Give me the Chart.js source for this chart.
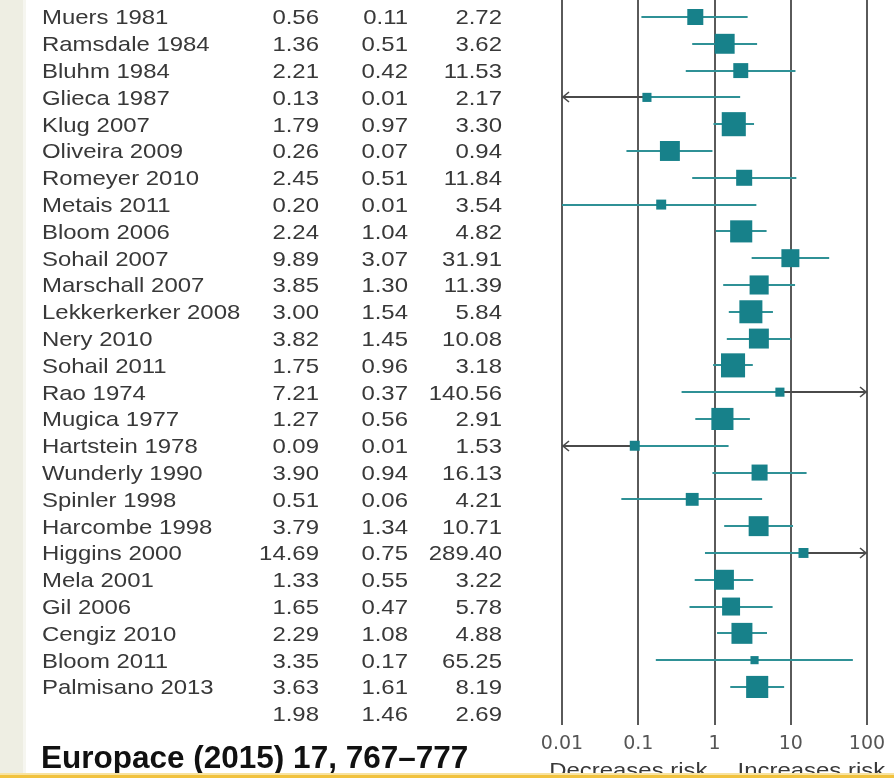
<!DOCTYPE html>
<html>
<head>
<meta charset="utf-8">
<script src="https://cdn.jsdelivr.net/npm/chart.js@4.4.1/dist/chart.umd.min.js"></script>
<style>
  html, body { margin: 0; padding: 0; background: #fff; overflow: hidden; }
  #wrap { width: 894px; height: 778px; position: relative; }
  canvas { display: block; }
</style>
</head>
<body>
<div id="wrap"><canvas id="forest" width="894" height="778"></canvas></div>
<script>
// Study-level odds ratios with 95% confidence intervals
const studies = [
  "Muers 1981", "Ramsdale 1984", "Bluhm 1984", "Glieca 1987", "Klug 2007",
  "Oliveira 2009", "Romeyer 2010", "Metais 2011", "Bloom 2006", "Sohail 2007",
  "Marschall 2007", "Lekkerkerker 2008", "Nery 2010", "Sohail 2011", "Rao 1974",
  "Mugica 1977", "Hartstein 1978", "Wunderly 1990", "Spinler 1998", "Harcombe 1998",
  "Higgins 2000", "Mela 2001", "Gil 2006", "Cengiz 2010", "Bloom 2011", "Palmisano 2013"
];
const oddsRatio = [
  0.56, 1.36, 2.21, 0.13, 1.79, 0.26, 2.45, 0.20, 2.24, 9.89,
  3.85, 3.00, 3.82, 1.75, 7.21, 1.27, 0.09, 3.90, 0.51, 3.79,
  14.69, 1.33, 1.65, 2.29, 3.35, 3.63
];
const ciLower = [
  0.11, 0.51, 0.42, 0.01, 0.97, 0.07, 0.51, 0.01, 1.04, 3.07,
  1.30, 1.54, 1.45, 0.96, 0.37, 0.56, 0.01, 0.94, 0.06, 1.34,
  0.75, 0.55, 0.47, 1.08, 0.17, 1.61
];
const ciUpper = [
  2.72, 3.62, 11.53, 2.17, 3.30, 0.94, 11.84, 3.54, 4.82, 31.91,
  11.39, 5.84, 10.08, 3.18, 140.56, 2.91, 1.53, 16.13, 4.21, 10.71,
  289.40, 3.22, 5.78, 4.88, 65.25, 8.19
];
// relative study weights (%), box area is proportional to weight
const weights = [
  3.1, 4.8, 2.7, 1.0, 7.0, 4.8, 3.1, 1.2, 5.9, 3.9,
  4.4, 6.4, 4.8, 7.0, 1.0, 5.9, 1.2, 3.1, 2.0, 4.8,
  1.2, 4.8, 3.9, 5.3, 0.8, 5.9
];
// studies whose lower limit lies below the plotted range (shown rounded as 0.01)
const lowerBeyondAxis = ["Glieca 1987", "Hartstein 1978"];
// pooled estimate: OR, lower, upper
const pooled = [1.98, 1.46, 2.69];

const tickValues = [0.01, 0.1, 1, 10, 100];
const tickLabels = ["0.01", "0.1", "1", "10", "100"];
const axisCaptions = ["Decreases risk", "Increases risk"];
const citation = "Europace (2015) 17, 767\u2013777";

const TEAL = "#17818a";
const TEAL_LINE = "#2f9196";
const DARK = "#4a4a4a";
const TEXT = "#383838";
const X_MIN = 0.01, X_MAX = 100;

function boxRadius(w) {
  const side = 9.1 * Math.sqrt(w);
  return side / Math.SQRT2; // Chart.js 'rect' side = sqrt(2) * radius
}

function stretchedText(ctx, str, x, y, align, sx) {
  ctx.save();
  ctx.translate(x, y);
  ctx.scale(sx, 1);
  ctx.textAlign = align;
  ctx.fillText(str, 0, 0);
  ctx.restore();
}

const forestPlugin = {
  id: "forestTable",
  beforeDraw(chart) {
    const ctx = chart.ctx;
    ctx.save();
    ctx.fillStyle = "#ffffff";
    ctx.fillRect(0, 0, chart.width, chart.height);
    // slide margin strip
    ctx.fillStyle = "#eeeee3";
    ctx.fillRect(0, 0, 23, chart.height);
    ctx.fillStyle = "#f6f6f0";
    ctx.fillRect(23, 0, 3, chart.height);
    ctx.restore();
  },
  beforeDatasetsDraw(chart) {
    const ctx = chart.ctx;
    const xs = chart.scales.x, ys = chart.scales.y;
    ctx.save();
    ctx.lineWidth = 2;
    ctx.lineCap = "butt";
    studies.forEach((name, i) => {
      const y = Math.round(ys.getPixelForValue(i));
      const lowOut = lowerBeyondAxis.includes(name) || ciLower[i] < X_MIN;
      const highOut = ciUpper[i] > X_MAX;
      const xl = xs.getPixelForValue(Math.max(ciLower[i], X_MIN));
      const xr = xs.getPixelForValue(Math.min(ciUpper[i], X_MAX));
      const xp = xs.getPixelForValue(oddsRatio[i]);
      const seg = (a, b, col) => {
        ctx.strokeStyle = col;
        ctx.beginPath();
        ctx.moveTo(a, y);
        ctx.lineTo(b, y);
        ctx.stroke();
      };
      seg(xl, xp, lowOut ? DARK : TEAL_LINE);
      seg(xp, xr, highOut ? DARK : TEAL_LINE);
      ctx.strokeStyle = DARK;
      ctx.lineWidth = 1.6;
      if (lowOut) {
        ctx.beginPath();
        ctx.moveTo(xl + 7, y - 5);
        ctx.lineTo(xl + 1, y);
        ctx.lineTo(xl + 7, y + 5);
        ctx.stroke();
      }
      if (highOut) {
        ctx.beginPath();
        ctx.moveTo(xr - 7, y - 5);
        ctx.lineTo(xr - 1, y);
        ctx.lineTo(xr - 7, y + 5);
        ctx.stroke();
      }
      ctx.lineWidth = 2;
    });
    ctx.restore();
  },
  afterDraw(chart) {
    const ctx = chart.ctx;
    const xs = chart.scales.x, ys = chart.scales.y;
    ctx.save();
    ctx.fillStyle = TEXT;
    ctx.font = "21px 'Liberation Sans', Arial, sans-serif";
    ctx.textBaseline = "alphabetic";
    const SX = 1.14;
    const colRight = [319, 408, 502];
    const rowText = (i, name, vals) => {
      const base = ys.getPixelForValue(i) + 7.4;
      if (name) stretchedText(ctx, name, 42, base, "left", SX);
      vals.forEach((v, k) => stretchedText(ctx, v.toFixed(2), colRight[k], base, "right", SX));
    };
    studies.forEach((name, i) => rowText(i, name, [oddsRatio[i], ciLower[i], ciUpper[i]]));
    rowText(studies.length, "", pooled);

    // direction captions either side of OR = 1
    const x1 = xs.getPixelForValue(1);
    stretchedText(ctx, axisCaptions[0], x1 - 7, 777, "right", SX);
    stretchedText(ctx, axisCaptions[1], x1 + 23, 777, "left", SX);

    // source line
    ctx.fillStyle = "#111111";
    ctx.font = "bold 31.5px 'Liberation Sans', Arial, sans-serif";
    ctx.textAlign = "left";
    ctx.fillText(citation, 41, 768);

    // slide footer band
    ctx.fillStyle = "#f8e3a0";
    ctx.fillRect(0, 773, chart.width, 2);
    ctx.fillStyle = "#f1c23e";
    ctx.fillRect(0, 775, chart.width, 3);
    ctx.restore();
  }
};

const ctx = document.getElementById("forest").getContext("2d");
new Chart(ctx, {
  type: "scatter",
  data: {
    datasets: [{
      data: studies.map((s, i) => ({ x: oddsRatio[i], y: i })),
      pointStyle: "rect",
      pointRadius: weights.map(boxRadius),
      pointHoverRadius: weights.map(boxRadius),
      backgroundColor: TEAL,
      borderWidth: 0,
      clip: false
    }]
  },
  options: {
    responsive: false,
    animation: false,
    devicePixelRatio: 1,
    events: [],
    layout: { autoPadding: false, padding: { left: 562, right: 27, top: 0, bottom: 0 } },
    plugins: { legend: { display: false }, tooltip: { enabled: false } },
    scales: {
      x: {
        type: "logarithmic",
        min: X_MIN,
        max: X_MAX,
        afterBuildTicks: (s) => { s.ticks = tickValues.map(v => ({ value: v, major: true })); },
        afterFit: (s) => { s.height = 53; },
        border: { display: false },
        grid: { color: "#5a5a5a", lineWidth: 2, drawTicks: false },
        ticks: {
          padding: 8,
          color: "#555555",
          autoSkip: false,
          maxRotation: 0,
          font: { family: "'DejaVu Sans'", size: 19 },
          callback: (v) => tickLabels[tickValues.indexOf(v)]
        }
      },
      y: {
        type: "linear",
        reverse: true,
        min: -0.634,
        max: 26.42,
        display: false
      }
    }
  },
  plugins: [forestPlugin]
});
</script>
</body>
</html>
